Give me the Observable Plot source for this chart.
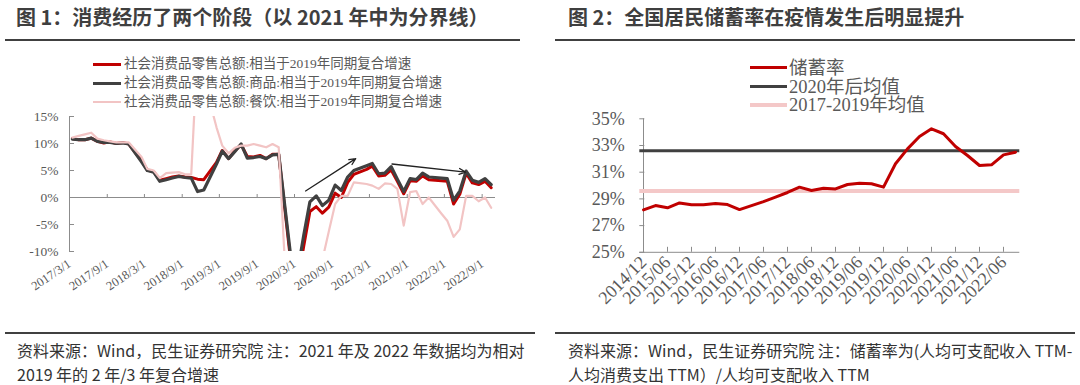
<!DOCTYPE html>
<html><head><meta charset="utf-8">
<script src="https://cdn.jsdelivr.net/npm/d3@7"></script>
<script src="https://cdn.jsdelivr.net/npm/@observablehq/plot@0.6"></script>
<style>
body{margin:0;background:#fff;}
#wrap{position:relative;width:1080px;height:385px;overflow:hidden;font-family:"Noto Sans CJK SC",sans-serif;}
.abs{position:absolute;white-space:nowrap;}
.title{font-size:20px;line-height:24px;font-weight:bold;color:#3f3f3f;}
.hr{position:absolute;height:2px;background:#404040;}
.note{font-size:16px;line-height:24px;color:#333;}
.leg{position:absolute;display:flex;align-items:center;white-space:nowrap;color:#595959;font-family:"Liberation Serif","Noto Sans CJK SC",serif;}
.sw{display:inline-block;}
.panel{position:absolute;top:0;}
</style></head><body><div id="wrap"></div>
<script>
// ---------- Figure 1: retail sales, compound growth vs 2019 (%) ----------
const retailMonths = [
"2017-03","2017-04","2017-05","2017-06","2017-07","2017-08","2017-09","2017-10","2017-11","2017-12",
"2018-02","2018-03","2018-04","2018-05","2018-06","2018-07","2018-08","2018-09","2018-10","2018-11","2018-12",
"2019-02","2019-03","2019-04","2019-05","2019-06","2019-07","2019-08","2019-09","2019-10","2019-11","2019-12",
"2020-02","2020-03","2020-04","2020-05","2020-06","2020-07","2020-08","2020-09","2020-10","2020-11","2020-12",
"2021-02","2021-03","2021-04","2021-05","2021-06","2021-07","2021-08","2021-09","2021-10","2021-11","2021-12",
"2022-02","2022-03","2022-04","2022-05","2022-06","2022-07","2022-08","2022-09","2022-10"];
const retailTotal = [
10.9,10.7,10.7,11.0,10.4,10.1,10.3,10.0,10.2,9.9,
6.8,5.1,4.8,3.2,3.5,3.8,4.0,3.8,3.7,3.4,3.3,
6.5,8.7,7.2,8.6,9.8,7.6,7.5,7.8,7.2,8.0,8.0,
-13,-15.8,-9.0,-2.6,-1.7,-2.9,-1.8,0.8,0.0,2.8,4.3,
5.2,5.8,4.0,4.1,5.1,3.0,0.7,3.1,3.0,4.0,3.3,
3.1,3.0,-1.2,0.6,4.5,2.7,2.4,3.0,1.8];
const retailGoods = [
10.8,10.7,10.7,11.0,10.4,10.2,10.2,10.0,10.1,9.9,
6.6,5.0,4.7,3.0,3.3,3.6,3.9,3.7,3.6,1.1,1.4,
6.2,8.6,7.2,8.5,9.9,7.3,7.4,7.6,7.2,7.9,8.0,
-12,-14,-7,-0.8,0.3,-1.5,-0.5,2.3,1.3,3.8,5.0,
5.9,6.3,4.4,4.5,5.7,3.4,1.1,3.5,3.3,4.5,3.8,
3.6,3.5,-0.5,1.2,4.9,3.2,2.8,3.5,2.4];
const retailCatering = [
11.1,11.4,11.7,12.0,10.9,10.6,10.4,10.2,10.2,10.2,
7.5,5.3,5.0,3.6,4.5,4.6,4.7,4.3,4.3,28,22,
13,9.6,8.2,9.2,9.6,9.6,9.9,9.6,9.3,9.9,9.3,
-35,-40,-30,-20,-15,-11.5,-6.3,-1.2,0.3,0.3,2.8,
2.5,2.2,1.6,2.6,2.5,1.6,-5.2,1.0,1.2,-1.2,0.0,
-3.0,-4.3,-7.3,-5.9,0.3,0.3,-0.7,0.0,-1.9];
const retailXTicks = ["2017-03-01","2017-09-01","2018-03-01","2018-09-01","2019-03-01","2019-09-01",
"2020-03-01","2020-09-01","2021-03-01","2021-09-01","2022-03-01","2022-09-01"];
const retailYTicks = [-10,-5,0,5,10,15];
const retailSeriesNames = ["社会消费品零售总额:相当于2019年同期复合增速","社会消费品零售总额:商品:相当于2019年同期复合增速","社会消费品零售总额:餐饮:相当于2019年同期复合增速"];
const trendArrows = [
  {x1:"2020-04-24", y1:1.2, x2:"2020-12-24", y2:7.2},
  {x1:"2021-06-19", y1:6.2, x2:"2022-06-12", y2:4.7}];

// ---------- Figure 2: household saving rate (%) ----------
const savingQuarters = ["2014/12","2015/03","2015/06","2015/09","2015/12","2016/03","2016/06","2016/09","2016/12",
"2017/03","2017/06","2017/09","2017/12","2018/03","2018/06","2018/09","2018/12","2019/03","2019/06","2019/09","2019/12",
"2020/03","2020/06","2020/09","2020/12","2021/03","2021/06","2021/09","2021/12","2022/03","2022/06","2022/09"];
const savingRate = [28.18,28.5,28.33,28.7,28.56,28.56,28.66,28.58,28.2,28.5,28.8,29.13,29.48,29.88,29.63,29.8,29.75,
30.08,30.18,30.13,29.88,31.63,32.75,33.68,34.25,33.88,32.93,32.25,31.5,31.55,32.3,32.5];
const savingMeanPost2020 = 32.6;
const savingMean2017to2019 = 29.6;
const savingYTicks = [25,27,29,31,33,35];
const savingSeriesNames = ["储蓄率","2020年后均值","2017-2019年均值"];

// ---------- colours ----------
const RED = "#c00000", DARK = "#404040", PINK = "#f2c4c4", AXIS = "#8c8c8c", TXT = "#595959";

const wrap = document.getElementById("wrap");
function addDiv(cls, css, html){const d=document.createElement("div");d.className=cls;d.style.cssText=css;d.innerHTML=html;wrap.appendChild(d);return d;}

// ---------- left chart ----------
const parseM = s => { const [y,m] = s.split("-").map(Number); return new Date(Date.UTC(y, m-1, 15)); };
const parseD = d3.utcParse("%Y-%m-%d");
const rows = retailMonths.map((m,i)=>({date:parseM(m), total:retailTotal[i], goods:retailGoods[i], catering:retailCatering[i]}));
const xTicks = retailXTicks.map(parseD);
const xDom = [parseD("2017-03-01"), parseD("2022-11-05")];
const LW=540, LH=335, LML=69, LMR=45, LMT=116, LMB=84;
const lPW = LW-LML-LMR, lPH = LH-LMT-LMB;
const zeroOff = lPH*(15/25);
const arrows = trendArrows.map(a=>({x1:parseD(a.x1),y1:a.y1,x2:parseD(a.x2),y2:a.y2}));

const left = Plot.plot({
  width: LW, height: LH, marginLeft: LML, marginRight: LMR, marginTop: LMT, marginBottom: LMB,
  style: {fontFamily:"'Liberation Serif', serif", fontSize:"13.5px", color:TXT, background:"transparent", overflow:"visible"},
  x: {type:"utc", domain: xDom},
  y: {domain: [-10, 15]},
  marks: [
    Plot.ruleY([0], {stroke: AXIS}),
    Plot.ruleX([xDom[0]], {stroke: AXIS}),
    Plot.ruleY(retailYTicks, {stroke: AXIS, insetRight: lPW-5}),
    Plot.ruleX(xTicks, {stroke: AXIS, insetTop: zeroOff-3, insetBottom: lPH-zeroOff}),
    Plot.axisY({ticks: retailYTicks, tickFormat: d => d + "%", tickSize: 0, tickPadding: 11, label: null}),
    Plot.axisX({ticks: xTicks, tickFormat: d3.utcFormat("%Y/%-m/%-d"), tickSize: 0, tickRotate: -34, tickPadding: 11, fontSize: 12.5, label: null}),
    Plot.line(rows, {x:"date", y:"total", stroke: RED, strokeWidth: 3, clip: true}),
    Plot.line(rows, {x:"date", y:"goods", stroke: DARK, strokeWidth: 3.2, clip: true}),
    Plot.line(rows, {x:"date", y:"catering", stroke: PINK, strokeWidth: 2.2, clip: true}),
    Plot.arrow(arrows, {x1:"x1", y1:"y1", x2:"x2", y2:"y2", stroke:"#222", strokeWidth: 1.3, headLength: 8, headAngle: 50})
  ]
});
const lp = document.createElement("div"); lp.className="panel"; lp.style.left="0px"; lp.appendChild(left); wrap.appendChild(lp);

// ---------- right chart ----------
const RW=540, RH=335, RML=99.3, RMR=60.7, RMT=118.3, RMB=83.2;
const rPW = RW-RML-RMR, rPH = RH-RMT-RMB;
const sRows = savingQuarters.map((q,i)=>({q, v:savingRate[i]}));
const sTicks = savingQuarters.filter((q,i)=> i%2===0);
const right = Plot.plot({
  width: RW, height: RH, marginLeft: RML, marginRight: RMR, marginTop: RMT, marginBottom: RMB,
  style: {fontFamily:"'Liberation Serif', serif", fontSize:"18px", color:TXT, background:"transparent", overflow:"visible"},
  x: {type:"point", domain: savingQuarters, padding: 0},
  y: {domain: [25, 35]},
  marks: [
    Plot.ruleY([25], {stroke: AXIS}),
    Plot.ruleX([savingQuarters[0]], {stroke: AXIS}),
    Plot.ruleY(savingYTicks, {stroke: AXIS, insetRight: rPW-5}),
    Plot.ruleX(sTicks, {stroke: AXIS, insetTop: rPH-5}),
    Plot.axisY({ticks: savingYTicks, tickFormat: d => d + "%", tickSize: 0, tickPadding: 15, label: null}),
    Plot.axisX({ticks: sTicks, tickSize: 0, tickRotate: -45, tickPadding: 7, label: null}),
    Plot.ruleY([savingMean2017to2019], {stroke: "#f4c8c8", strokeWidth: 4}),
    Plot.ruleY([savingMeanPost2020], {stroke: DARK, strokeWidth: 3}),
    Plot.line(sRows, {x:"q", y:"v", stroke: RED, strokeWidth: 3})
  ]
});
const rp = document.createElement("div"); rp.className="panel"; rp.style.left="540px"; rp.appendChild(right); wrap.appendChild(rp);

// ---------- titles, rules, legends, notes ----------
addDiv("abs title","left:16px;top:5px;","图 1：消费经历了两个阶段（以 2021 年中为分界线）");
addDiv("abs title","left:568px;top:5px;","图 2：全国居民储蓄率在疫情发生后明显提升");
addDiv("hr","left:5px;top:39px;width:515px;","");
addDiv("hr","left:555px;top:39px;width:520px;","");
addDiv("hr","left:5px;top:332px;width:530px;","");
addDiv("hr","left:555px;top:332px;width:520px;","");

const lCols=[RED,DARK,PINK], lW=[3,3,2];
[64,83.3,101.7].forEach((cy,i)=>{
  addDiv("leg",`left:93px;top:${cy-9}px;height:18px;line-height:18px;font-size:13.5px;`,
   `<span class="sw" style="width:28px;height:${lW[i]}px;background:${lCols[i]};margin-right:3px"></span>${retailSeriesNames[i]}`);
});
const rCols=[RED,DARK,"#f4c8c8"], rW=[3.5,3.5,4.5];
[67.7,86.7,105].forEach((cy,i)=>{
  addDiv("leg",`left:750px;top:${cy-9}px;height:18px;line-height:18px;font-size:18.5px;`,
   `<span class="sw" style="width:37px;height:${rW[i]}px;background:${rCols[i]};margin-right:2px"></span>${savingSeriesNames[i]}`);
});
addDiv("abs note","left:17px;top:338px;","资料来源：Wind，民生证券研究院 注：2021 年及 2022 年数据均为相对<br>2019 年的 2 年/3 年复合增速");
addDiv("abs note","left:568px;top:338px;","资料来源：Wind，民生证券研究院 注：储蓄率为(人均可支配收入 TTM-<br>人均消费支出 TTM）/人均可支配收入 TTM");
</script></body></html>
